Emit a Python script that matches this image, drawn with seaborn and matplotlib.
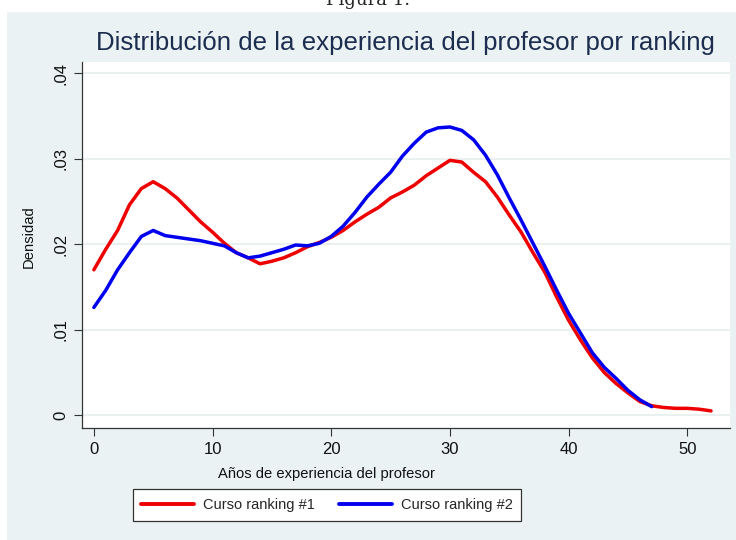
import pandas as pd
import numpy as np
import matplotlib
matplotlib.use("Agg")
import matplotlib.pyplot as plt
from matplotlib.patches import Rectangle
import seaborn as sns

# años de experiencia (eje x) y densidades
years = list(range(0, 53))
dens_r1 = [0.0170, 0.0194, 0.0216, 0.0246, 0.0265, 0.0273, 0.0265, 0.0254, 0.0240, 0.0226,
           0.0214, 0.0201, 0.0190, 0.0184, 0.0177, 0.0180, 0.0184, 0.0190, 0.0197, 0.0202,
           0.0208, 0.0216, 0.0226, 0.0235, 0.0243, 0.0254, 0.0261, 0.0269, 0.0280, 0.0289,
           0.0298, 0.0296, 0.0284, 0.0273, 0.0255, 0.0234, 0.0214, 0.0190, 0.0167, 0.0138,
           0.0111, 0.0088, 0.0067, 0.0050, 0.0037, 0.0026, 0.0016, 0.0011, 0.0009, 0.0008,
           0.0008, 0.0007, 0.0005]
years_r2 = list(range(0, 48))
dens_r2 = [0.0126, 0.0146, 0.0170, 0.0190, 0.0209, 0.0216, 0.0210, 0.0208, 0.0206, 0.0204,
           0.0201, 0.0198, 0.0190, 0.0184, 0.0186, 0.0190, 0.0194, 0.0199, 0.0198, 0.0201,
           0.0209, 0.0221, 0.0237, 0.0255, 0.0270, 0.0284, 0.0303, 0.0318, 0.0331, 0.0336,
           0.0337, 0.0333, 0.0322, 0.0304, 0.0281, 0.0254, 0.0228, 0.0201, 0.0174, 0.0146,
           0.0119, 0.0096, 0.0073, 0.0056, 0.0043, 0.0029, 0.0018, 0.0010]
labels = ["Curso ranking #1", "Curso ranking #2"]
x_ticks = [0, 10, 20, 30, 40, 50]
y_ticks = [0, 0.01, 0.02, 0.03, 0.04]
y_tick_labels = ["0", ".01", ".02", ".03", ".04"]

df = pd.concat([
    pd.DataFrame({"x": years, "dens": dens_r1, "grupo": labels[0]}),
    pd.DataFrame({"x": years_r2, "dens": dens_r2, "grupo": labels[1]}),
], ignore_index=True)

sns.set_style("white")
plt.rcParams["font.family"] = ["Liberation Sans", "DejaVu Sans"]

fig = plt.figure(figsize=(7.36, 5.4), dpi=100)
fig.patch.set_facecolor("white")
bg = "#EAF2F3"
fig.patches.append(Rectangle((7 / 736, 0), 1, 1 - 12 / 540, transform=fig.transFigure,
                             facecolor=bg, edgecolor="none", zorder=-5))
fig.text(0.5, 1.0, "Figura 1.", ha="center", va="center", fontsize=13,
         family="DejaVu Serif", color="#222222")

ax = fig.add_axes([82 / 736, 1 - 428 / 540, 648 / 736, 366 / 540])
ax.set_zorder(2)
ax.set_facecolor("white")

sns.lineplot(data=df, x="x", y="dens", hue="grupo", palette=["#EE0000", "#0000EE"],
             linewidth=2.5, ax=ax, legend=False)

ax.set_xlim(-1.0, 53.6)
ax.set_ylim(-0.0015, 0.0413)
ax.set_xticks(x_ticks)
ax.set_yticks(y_ticks)
ax.set_yticklabels(y_tick_labels, rotation=90, va="center")
ax.tick_params(axis="both", direction="out", length=6, width=0.8, color="#333333",
               labelsize=12, labelcolor="#111111", pad=4, left=True, bottom=True)
ax.yaxis.grid(True, color="#E6ECEC", linewidth=1.2)
ax.xaxis.grid(False)
for s in ["top", "right"]:
    ax.spines[s].set_visible(False)
for s in ["left", "bottom"]:
    ax.spines[s].set_color("#333333")
    ax.spines[s].set_linewidth(0.9)

ax.set_xlabel("Años de experiencia del profesor", fontsize=10.6, color="#111111")
ax.set_ylabel("Densidad", fontsize=10.6, color="#111111")
ax.xaxis.set_label_coords((327 - 82) / 648, -(467 - 428) / 366)
ax.yaxis.set_label_coords(-(82 - 36) / 648, 1 - (237 - 62) / 366)

fig.text(96 / 736, 1 - 43 / 540, "Distribución de la experiencia del profesor por ranking",
         ha="left", va="center", fontsize=18.6, color="#1C2D4F")

handles = [plt.Line2D([], [], color="#EE0000", lw=2.8),
           plt.Line2D([], [], color="#0000EE", lw=2.8)]
leg = fig.legend(handles, labels, loc="center", bbox_to_anchor=(327 / 736, 1 - 505 / 540),
                 ncol=2, frameon=True, fancybox=False, framealpha=1, fontsize=10.5,
                 handlelength=3.6, columnspacing=1.7, borderpad=0.6, handletextpad=0.6)
leg.get_frame().set_edgecolor("#333333")
leg.get_frame().set_facecolor("white")
leg.get_frame().set_linewidth(0.9)

fig.savefig("out.png", dpi=100)
